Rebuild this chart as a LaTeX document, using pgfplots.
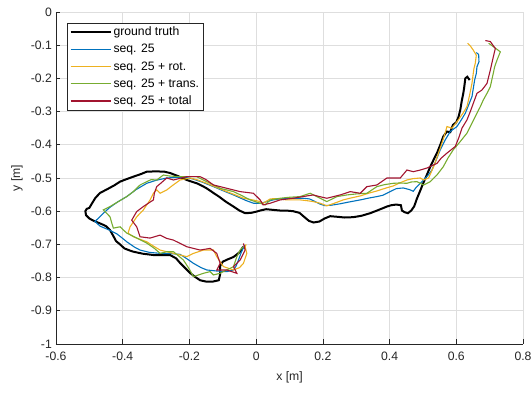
\documentclass[border=0pt]{standalone}
\usepackage{pgfplots}
\pgfplotsset{compat=1.18}
\usepackage{fontspec}
\setmainfont{Liberation Sans}
\definecolor{mblue}{rgb}{0,0.447,0.741}
\definecolor{morange}{rgb}{0.929,0.694,0.125}
\definecolor{mgreen}{rgb}{0.466,0.674,0.188}
\definecolor{mred}{rgb}{0.635,0.078,0.184}
\definecolor{axgray}{rgb}{0.15,0.15,0.15}
\definecolor{gridgray}{rgb}{0.87,0.87,0.87}
\begin{document}
\fontsize{11.9pt}{14pt}\selectfont
\begin{tikzpicture}
\begin{axis}[
  scale only axis,
  width=467pt, height=332pt,
  xmin=-0.6, xmax=0.8, ymin=-1, ymax=0,
  xtick={-0.6,-0.4,...,0.8},
  ytick={-1,-0.9,...,0},
  xticklabels={-0.6,-0.4,-0.2,0,0.2,0.4,0.6,0.8},
  yticklabels={-1,-0.9,-0.8,-0.7,-0.6,-0.5,-0.4,-0.3,-0.2,-0.1,0},
  axis x line*=bottom, axis y line*=left,
  axis line style={axgray, line width=0.7pt, -},
  tick align=inside,
  major tick length=4.5pt,
  tick style={axgray, line width=0.7pt},
  grid=major,
  grid style={gridgray, line width=0.7pt},
  ticklabel style={font=\fontsize{12.2pt}{14pt}\selectfont, text=axgray},
  xticklabel style={yshift=-4pt},
  /pgf/number format/assume math mode=true,
  xlabel={x [m]}, ylabel={y [m]},
  label style={font=\fontsize{12.2pt}{14pt}\selectfont, text=axgray},
  xlabel style={yshift=-3pt},
  ylabel style={yshift=0pt},
  legend style={at={(0.024,0.968)}, anchor=north west, draw=axgray, line width=0.7pt,
    font=\fontsize{12.2pt}{14pt}\selectfont, text=black, inner sep=2pt, row sep=2.8pt,
    cells={anchor=west}},
  legend cell align=left,
  legend image code/.code={\draw[#1] (0pt,0pt) -- (40pt,0pt);},
]
\addplot[black, line width=2pt] coordinates {
(0.640,-0.205)(0.633,-0.195)(0.627,-0.200)(0.624,-0.225)(0.621,-0.245)(0.616,-0.270)(0.612,-0.295)(0.607,-0.315)(0.600,-0.332)(0.590,-0.340)(0.582,-0.362)(0.572,-0.360)(0.561,-0.375)(0.552,-0.400)(0.542,-0.425)(0.532,-0.445)(0.522,-0.466)(0.512,-0.490)(0.502,-0.513)(0.492,-0.538)(0.482,-0.562)(0.474,-0.585)(0.465,-0.598)(0.455,-0.606)(0.445,-0.603)(0.437,-0.598)(0.434,-0.582)(0.420,-0.580)(0.405,-0.582)(0.392,-0.586)(0.370,-0.595)(0.342,-0.606)(0.315,-0.614)(0.291,-0.618)(0.265,-0.619)(0.245,-0.617)(0.222,-0.615)(0.205,-0.622)(0.190,-0.631)(0.172,-0.634)(0.158,-0.629)(0.145,-0.618)(0.130,-0.605)(0.111,-0.600)(0.090,-0.598)(0.072,-0.598)(0.050,-0.596)(0.030,-0.594)(0.012,-0.598)(0.002,-0.601)(-0.015,-0.605)(-0.033,-0.606)(-0.050,-0.598)(-0.068,-0.586)(-0.090,-0.572)(-0.110,-0.557)(-0.128,-0.545)(-0.150,-0.530)(-0.175,-0.517)(-0.208,-0.506)(-0.235,-0.494)(-0.258,-0.485)(-0.275,-0.481)(-0.300,-0.480)(-0.328,-0.481)(-0.345,-0.488)(-0.368,-0.496)(-0.390,-0.504)(-0.408,-0.511)(-0.425,-0.522)(-0.445,-0.533)(-0.468,-0.545)(-0.482,-0.560)(-0.493,-0.578)(-0.500,-0.590)(-0.508,-0.593)(-0.512,-0.600)(-0.510,-0.612)(-0.500,-0.622)(-0.485,-0.630)(-0.465,-0.638)(-0.450,-0.645)(-0.438,-0.657)(-0.428,-0.675)(-0.420,-0.690)(-0.408,-0.700)(-0.395,-0.712)(-0.380,-0.718)(-0.368,-0.722)(-0.340,-0.728)(-0.308,-0.732)(-0.280,-0.732)(-0.258,-0.732)(-0.240,-0.742)(-0.228,-0.756)(-0.212,-0.772)(-0.198,-0.786)(-0.183,-0.798)(-0.168,-0.808)(-0.150,-0.812)(-0.130,-0.812)(-0.112,-0.808)(-0.108,-0.790)(-0.108,-0.765)(-0.100,-0.752)(-0.085,-0.745)(-0.068,-0.738)(-0.055,-0.728)(-0.048,-0.722)(-0.042,-0.712)(-0.039,-0.707)
};
\addlegendentry{ground truth}
\addplot[mblue, line width=1.1pt] coordinates {
(0.660,-0.122)(0.667,-0.128)(0.668,-0.150)(0.662,-0.165)(0.660,-0.185)(0.655,-0.205)(0.651,-0.230)(0.647,-0.255)(0.637,-0.280)(0.627,-0.305)(0.615,-0.325)(0.602,-0.345)(0.582,-0.360)(0.567,-0.385)(0.552,-0.415)(0.540,-0.445)(0.527,-0.476)(0.515,-0.492)(0.502,-0.506)(0.492,-0.516)(0.480,-0.528)(0.471,-0.540)(0.460,-0.535)(0.441,-0.530)(0.420,-0.532)(0.400,-0.542)(0.380,-0.552)(0.362,-0.556)(0.340,-0.560)(0.312,-0.566)(0.280,-0.572)(0.250,-0.578)(0.225,-0.582)(0.205,-0.583)(0.190,-0.578)(0.175,-0.570)(0.160,-0.563)(0.140,-0.561)(0.111,-0.561)(0.080,-0.562)(0.051,-0.566)(0.030,-0.572)(0.010,-0.576)(-0.008,-0.576)(-0.030,-0.568)(-0.050,-0.559)(-0.068,-0.551)(-0.100,-0.538)(-0.128,-0.526)(-0.160,-0.513)(-0.190,-0.503)(-0.208,-0.499)(-0.240,-0.498)(-0.268,-0.500)(-0.300,-0.507)(-0.328,-0.516)(-0.360,-0.535)(-0.388,-0.556)(-0.415,-0.572)(-0.438,-0.588)(-0.460,-0.608)(-0.483,-0.631)(-0.468,-0.645)(-0.440,-0.657)(-0.418,-0.668)(-0.400,-0.682)(-0.388,-0.692)(-0.365,-0.708)(-0.348,-0.717)(-0.320,-0.724)(-0.288,-0.727)(-0.255,-0.728)(-0.228,-0.730)(-0.205,-0.745)(-0.188,-0.757)(-0.165,-0.770)(-0.148,-0.777)(-0.120,-0.780)(-0.088,-0.782)(-0.068,-0.777)(-0.060,-0.765)(-0.053,-0.747)(-0.045,-0.725)(-0.038,-0.710)(-0.033,-0.702)
};
\addlegendentry{seq. 25}
\addplot[morange, line width=1.1pt] coordinates {
(0.634,-0.094)(0.642,-0.102)(0.651,-0.115)(0.660,-0.130)(0.657,-0.154)(0.653,-0.170)(0.651,-0.184)(0.647,-0.215)(0.640,-0.250)(0.632,-0.285)(0.620,-0.305)(0.606,-0.325)(0.587,-0.350)(0.572,-0.345)(0.565,-0.370)(0.557,-0.395)(0.545,-0.430)(0.532,-0.466)(0.517,-0.500)(0.502,-0.506)(0.492,-0.500)(0.470,-0.502)(0.452,-0.506)(0.430,-0.515)(0.411,-0.524)(0.390,-0.530)(0.362,-0.539)(0.340,-0.545)(0.312,-0.554)(0.285,-0.560)(0.261,-0.566)(0.240,-0.574)(0.212,-0.584)(0.192,-0.576)(0.171,-0.571)(0.150,-0.568)(0.132,-0.566)(0.092,-0.566)(0.060,-0.562)(0.042,-0.563)(0.021,-0.576)(0.012,-0.571)(-0.010,-0.566)(-0.038,-0.561)(-0.060,-0.552)(-0.088,-0.541)(-0.115,-0.530)(-0.148,-0.516)(-0.175,-0.506)(-0.198,-0.500)(-0.228,-0.506)(-0.250,-0.522)(-0.268,-0.536)(-0.288,-0.546)(-0.298,-0.536)(-0.308,-0.546)(-0.318,-0.566)(-0.338,-0.596)(-0.358,-0.617)(-0.378,-0.647)(-0.384,-0.666)(-0.368,-0.677)(-0.350,-0.684)(-0.328,-0.692)(-0.308,-0.705)(-0.288,-0.717)(-0.268,-0.722)(-0.248,-0.727)(-0.228,-0.732)(-0.208,-0.737)(-0.188,-0.727)(-0.158,-0.717)(-0.128,-0.717)(-0.118,-0.737)(-0.108,-0.752)(-0.098,-0.767)(-0.080,-0.773)(-0.068,-0.777)(-0.050,-0.770)(-0.038,-0.757)(-0.028,-0.727)(-0.033,-0.707)(-0.030,-0.700)
};
\addlegendentry{seq. 25 + rot.}
\addplot[mgreen, line width=1.1pt] coordinates {
(0.697,-0.094)(0.712,-0.105)(0.732,-0.120)(0.722,-0.145)(0.715,-0.165)(0.711,-0.184)(0.702,-0.225)(0.692,-0.245)(0.681,-0.265)(0.672,-0.285)(0.662,-0.305)(0.647,-0.335)(0.632,-0.365)(0.612,-0.390)(0.591,-0.415)(0.575,-0.440)(0.561,-0.466)(0.542,-0.491)(0.522,-0.511)(0.502,-0.521)(0.482,-0.511)(0.465,-0.512)(0.452,-0.516)(0.430,-0.515)(0.411,-0.516)(0.385,-0.520)(0.362,-0.526)(0.332,-0.546)(0.300,-0.548)(0.272,-0.551)(0.242,-0.556)(0.212,-0.571)(0.190,-0.560)(0.162,-0.546)(0.132,-0.556)(0.100,-0.558)(0.072,-0.561)(0.042,-0.566)(0.027,-0.581)(0.012,-0.576)(-0.018,-0.566)(-0.045,-0.552)(-0.068,-0.541)(-0.108,-0.531)(-0.138,-0.516)(-0.160,-0.505)(-0.178,-0.496)(-0.228,-0.496)(-0.260,-0.494)(-0.278,-0.491)(-0.298,-0.506)(-0.315,-0.505)(-0.328,-0.511)(-0.348,-0.521)(-0.368,-0.541)(-0.388,-0.556)(-0.413,-0.571)(-0.438,-0.586)(-0.458,-0.596)(-0.438,-0.617)(-0.433,-0.635)(-0.428,-0.651)(-0.408,-0.647)(-0.388,-0.666)(-0.358,-0.681)(-0.328,-0.696)(-0.305,-0.712)(-0.288,-0.727)(-0.268,-0.722)(-0.248,-0.722)(-0.218,-0.747)(-0.200,-0.775)(-0.188,-0.797)(-0.158,-0.787)(-0.138,-0.782)(-0.128,-0.792)(-0.108,-0.787)(-0.088,-0.777)(-0.068,-0.767)(-0.058,-0.737)(-0.048,-0.717)(-0.038,-0.707)
};
\addlegendentry{seq. 25 + trans.}
\addplot[mred, line width=1.1pt] coordinates {
(0.687,-0.086)(0.702,-0.089)(0.717,-0.110)(0.711,-0.135)(0.702,-0.175)(0.692,-0.215)(0.677,-0.235)(0.662,-0.245)(0.651,-0.275)(0.642,-0.300)(0.632,-0.325)(0.617,-0.350)(0.607,-0.380)(0.597,-0.405)(0.572,-0.425)(0.555,-0.440)(0.542,-0.456)(0.512,-0.470)(0.492,-0.476)(0.471,-0.481)(0.452,-0.476)(0.432,-0.500)(0.392,-0.500)(0.362,-0.521)(0.332,-0.526)(0.312,-0.546)(0.282,-0.541)(0.252,-0.551)(0.212,-0.561)(0.190,-0.556)(0.171,-0.551)(0.140,-0.556)(0.111,-0.561)(0.072,-0.566)(0.042,-0.576)(0.021,-0.581)(0.012,-0.566)(-0.008,-0.546)(-0.048,-0.541)(-0.088,-0.531)(-0.128,-0.521)(-0.150,-0.505)(-0.168,-0.496)(-0.208,-0.496)(-0.248,-0.506)(-0.268,-0.500)(-0.285,-0.515)(-0.298,-0.526)(-0.305,-0.545)(-0.308,-0.566)(-0.338,-0.586)(-0.358,-0.601)(-0.373,-0.627)(-0.358,-0.647)(-0.352,-0.665)(-0.348,-0.677)(-0.318,-0.681)(-0.288,-0.672)(-0.268,-0.682)(-0.248,-0.687)(-0.208,-0.707)(-0.168,-0.717)(-0.138,-0.712)(-0.118,-0.727)(-0.108,-0.757)(-0.118,-0.777)(-0.088,-0.777)(-0.058,-0.787)(-0.068,-0.767)(-0.048,-0.747)(-0.033,-0.717)(-0.038,-0.697)
};
\addlegendentry{seq. 25 + total}
\end{axis}
\pgfresetboundingbox
\useasboundingbox ([shift={(-56pt,-49pt)}]current axis.south west) rectangle ([shift={(9pt,12pt)}]current axis.north east);
\end{tikzpicture}
\end{document}
